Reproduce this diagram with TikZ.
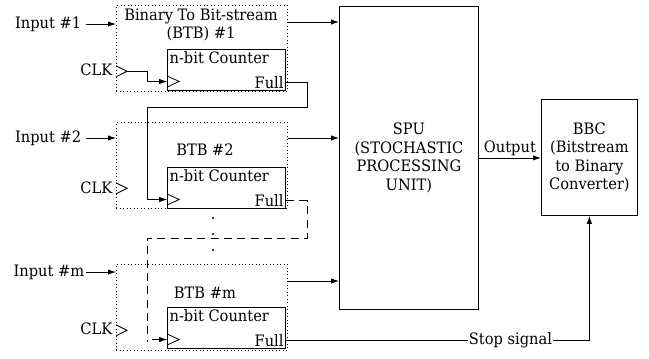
\documentclass[tikz,border=0pt]{standalone}
\usepackage{fontspec}
\setmainfont{DejaVu Serif}[FakeStretch=0.93]
\usetikzlibrary{arrows.meta,calc}

\begin{document}
\begin{tikzpicture}[x=0.75pt,y=-0.75pt,>={Latex[length=6pt,width=4pt]},
  line width=0.6pt,font=\fontsize{11.8}{13.8}\selectfont,
  btb box/.style={draw,dotted,minimum width=128.25pt,minimum height=64.5pt,inner sep=0pt},
  counter box/.style={draw,minimum width=88.5pt,minimum height=30.75pt,inner sep=0pt},
  big box/.style={draw,align=center,inner sep=0pt},
  pin text/.style={inner sep=1.5pt},
  dashed line/.style={dash pattern=on 6pt off 4pt}]

  \useasboundingbox (0,0) rectangle (649,358);

  % stage 1
  \node[btb box,anchor=north west] (btb1) at (116,5) {};
  \node[align=center] (lbl1) at (201,25) {Binary To Bit-stream\\(BTB) \#1};
  \node[counter box,anchor=south east] (cnt1) at (286,91) {};
  \node[pin text,anchor=north west] (nb1) at (cnt1.north west) {n-bit Counter};
  \node[pin text,anchor=south east] (full1) at (cnt1.south east) {Full};
  \node[anchor=east] (in1) at (86,24) {Input \#1};
  \node[anchor=east,inner sep=1pt] (clk1) at (114,70) {CLK};

  % stage 2
  \node[btb box,anchor=north west] (btb2) at (116,122) {};
  \node (lbl2) at (205,150) {BTB \#2};
  \node[counter box,anchor=south east] (cnt2) at (286,209) {};
  \node[pin text,anchor=north west] (nb2) at (cnt2.north west) {n-bit Counter};
  \node[pin text,anchor=south east] (full2) at (cnt2.south east) {Full};
  \node[anchor=east] (in2) at (86,138) {Input \#2};
  \node[anchor=east,inner sep=1pt] (clk2) at (114,188) {CLK};

  % stage m
  \node[btb box,anchor=north west] (btbm) at (116,264) {};
  \node (lblm) at (205,293) {BTB \#m};
  \node[counter box,anchor=south east] (cntm) at (286,349) {};
  \node[pin text,anchor=north west] (nbm) at (cntm.north west) {n-bit Counter};
  \node[pin text,anchor=south east] (fullm) at (cntm.south east) {Full};
  \node[anchor=east,inner sep=1pt] (inm) at (86,272) {Input \#m};
  \node[anchor=east,inner sep=1pt] (clkm) at (114,329) {CLK};

  \node[big box,anchor=north west,minimum width=104.25pt,minimum height=227.25pt] (spu) at (339,6)
    {SPU\\(STOCHASTIC\\PROCESSING\\UNIT)};
  \node[big box,anchor=north west,minimum width=72pt,minimum height=87pt] (bbc) at (541,99)
    {BBC\\(Bitstream\\to Binary\\Converter)};

  % clock triangles
  \draw ($(btb1.south west)+(0,-15)$) -- ++(11,-5.5) coordinate (k1) -- ++(-11,-5.5);
  \draw ($(btb2.south west)+(0,-15)$) -- ++(11,-5.5) coordinate (k2) -- ++(-11,-5.5);
  \draw ($(btbm.south west)+(0,-15)$) -- ++(11,-5.5) coordinate (km) -- ++(-11,-5.5);
  \draw ($(cnt1.south west)+(0,-4)$) -- ++(12,-5.5) -- ++(-12,-5.5);
  \draw ($(cnt2.south west)+(0,-4)$) -- ++(12,-5.5) -- ++(-12,-5.5);
  \draw ($(cntm.south west)+(0,-4)$) -- ++(12,-5.5) -- ++(-12,-5.5);
  \coordinate (c1) at ($(cnt1.south west)+(0,-9.5)$);
  \coordinate (c2) at ($(cnt2.south west)+(0,-9.5)$);
  \coordinate (cm) at ($(cntm.south west)+(0,-9.5)$);

  % outputs into the SPU
  \coordinate (o1) at ($(btb1.north east)+(0,17)$);
  \coordinate (o2) at ($(btb2.north east)+(0,16)$);
  \coordinate (om) at ($(btbm.north east)+(0,17)$);

  \draw[->] (in1.east) -- (in1.east -| btb1.west);
  \draw[->] (in2.east) -- (in2.east -| btb2.west);
  \draw[->] (inm.east) -- (inm.east -| btbm.west);

  \draw[->] (k1) -- ++(20,0) |- (c1);
  \draw[->] (cnt1.east |- full1) -- ++(21,0) |- (147,107) |- (c2);
  \draw[dashed line] (cnt2.east |- full2) -- ++(21,0) |- (147,238) -- (147,342);
  \draw[->] ($(cm)+(-15,0)$) -- (cm);

  \foreach \y in {218,234,250}
    \fill (213,\y) circle (0.9pt);

  \draw[->] (o1) -- (o1 -| spu.west);
  \draw[->] (o2) -- (o2 -| spu.west);
  \draw[->] (om) -- (om -| spu.west);

  \draw[->] (spu.east) -- (spu.east -| bbc.west) node[midway,above,inner sep=1pt] {Output};
  \draw[->] (cntm.east |- fullm) -| (bbc.south) node[pos=0.37,fill=white,inner sep=1pt] {Stop signal};
\end{tikzpicture}
\end{document}
